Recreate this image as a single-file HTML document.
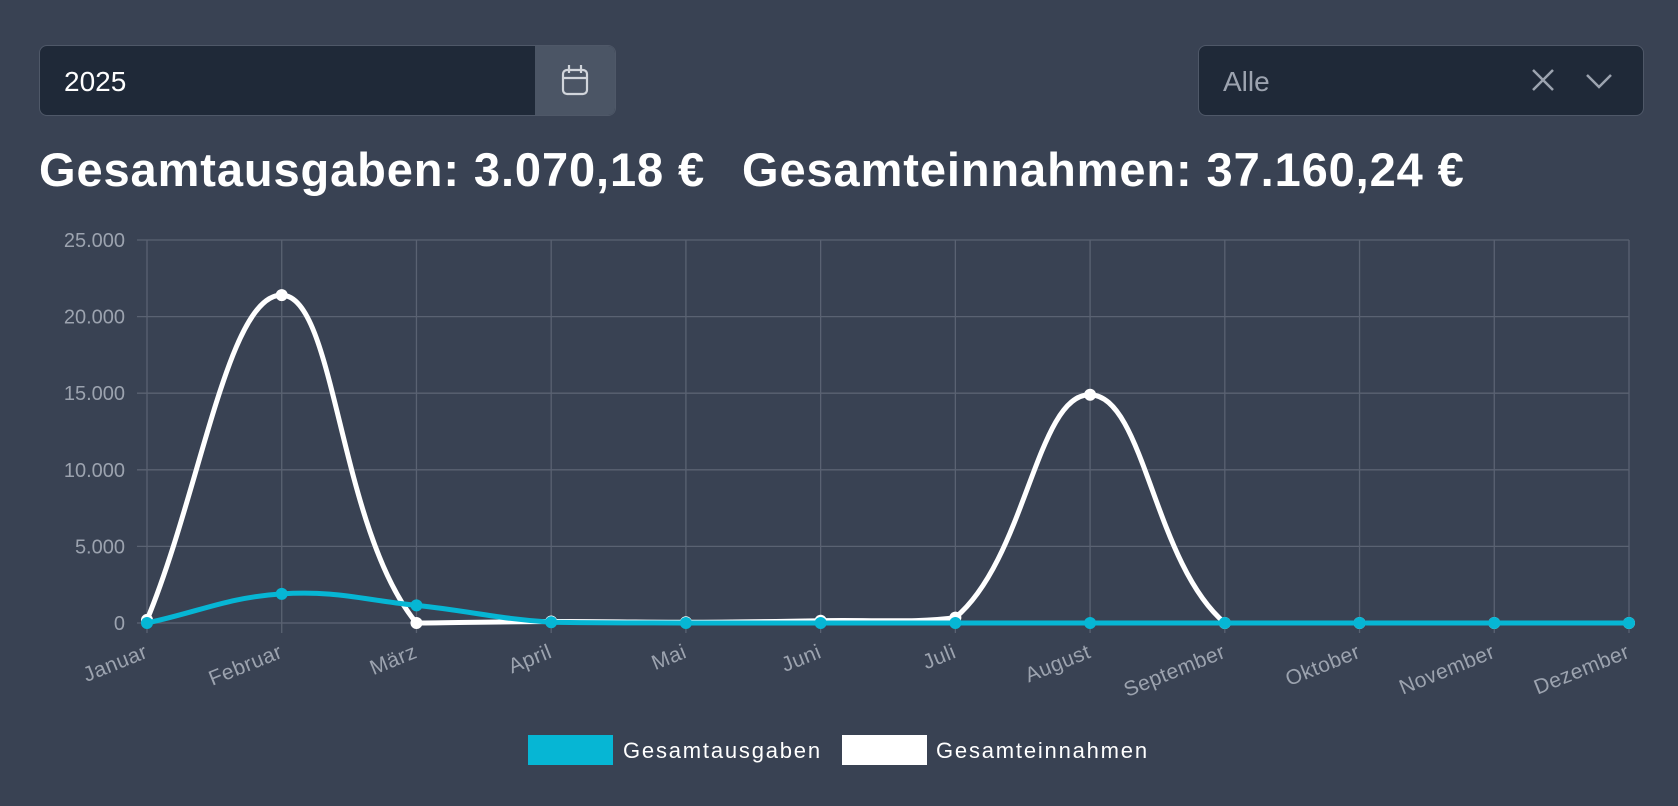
<!DOCTYPE html>
<html><head><meta charset="utf-8"><style>
html,body{margin:0;padding:0;width:1678px;height:806px;background:#394253;overflow:hidden;font-family:"Liberation Sans",sans-serif}
.inp{position:absolute;left:39px;top:45px;width:577px;height:71px;border:1.5px solid #4f5868;border-radius:8px;background:#1f2938;box-sizing:border-box;overflow:hidden}
.inp span{position:absolute;left:24px;top:20px;font-size:28px;color:#fff}
.btn{position:absolute;right:0;top:0;width:80px;height:100%;background:#4b5565}
.sel{position:absolute;left:1198px;top:45px;width:446px;height:71px;border:1.5px solid #4f5868;border-radius:8px;background:#1f2938;box-sizing:border-box}
.sel span{position:absolute;left:24px;top:20px;font-size:28px;color:#9ca3af}
h1{position:absolute;top:142px;margin:0;font-size:47px;font-weight:bold;color:#fff;white-space:nowrap;letter-spacing:0.9px}
</style></head><body>
<div class="inp"><span>2025</span><div class="btn"><svg width="80" height="71" viewBox="0 0 80 71"><rect x="28" y="24" width="24" height="24" rx="4" fill="none" stroke="#d1d5db" stroke-width="2.2"/><line x1="28" y1="32" x2="52" y2="32" stroke="#d1d5db" stroke-width="2.2"/><line x1="34" y1="19" x2="34" y2="27" stroke="#d1d5db" stroke-width="2.2"/><line x1="46" y1="19" x2="46" y2="27" stroke="#d1d5db" stroke-width="2.2"/></svg></div></div>
<div class="sel"><span>Alle</span><svg style="position:absolute;left:330px;top:20px" width="100" height="30"><path d="M4 4 L24 24 M24 4 L4 24" stroke="#9ca3af" stroke-width="2.5"/><path d="M58 9 L70 21 L82 9" stroke="#9ca3af" stroke-width="2.5" fill="none"/></svg></div>
<h1 style="left:39px">Gesamtausgaben: 3.070,18 €</h1>
<h1 style="left:742px">Gesamteinnahmen: 37.160,24 €</h1>
<svg id="c" style="position:absolute;left:0;top:0" width="1678" height="806"></svg>
<script>
const s=document.getElementById('c');let h='';
const L=147,R=1629,T=240,B=623;
const X=i=>L+i*(R-L)/11, Y=v=>B-v/25000*(B-T);
for(let k=0;k<=5;k++){const y=Y(k*5000);h+=`<line x1="${L-10}" y1="${y}" x2="${R}" y2="${y}" stroke="${k==0?'#5d6474':'#5a6272'}" stroke-width="1.3"/>`;
h+=`<text x="125" y="${y+7}" text-anchor="end" font-size="20" fill="#9ca3af">${k==0?'0':(k*5)+'.000'}</text>`;}
const m=['Januar','Februar','März','April','Mai','Juni','Juli','August','September','Oktober','November','Dezember'];
for(let i=0;i<12;i++){const x=X(i);h+=`<line x1="${x}" y1="${T}" x2="${x}" y2="${B+10}" stroke="#5a6272" stroke-width="1.3"/>`;
h+=`<text transform="translate(${x+2},${B+34}) rotate(-22)" text-anchor="end" font-size="21" letter-spacing="0.5" fill="#9ca3af">${m[i]}</text>`;}
const cl=(v,a,b)=>Math.max(a,Math.min(b,v));
function path(vals){const p=vals.map((v,i)=>[X(i),Y(v)]);const cp=p.map((c,i)=>{const a=p[i-1]||c,n=p[i+1]||c;const d01=Math.hypot(c[0]-a[0],c[1]-a[1]),d12=Math.hypot(n[0]-c[0],n[1]-c[1]);const sum=d01+d12||1;const fa=.4*d01/sum,fb=.4*d12/sum;return [[c[0]-fa*(n[0]-a[0]),cl(c[1]-fa*(n[1]-a[1]),T,B)],[c[0]+fb*(n[0]-a[0]),cl(c[1]+fb*(n[1]-a[1]),T,B)]]});
let d=`M${p[0]}`;for(let i=1;i<p.length;i++)d+=` C${cp[i-1][1]} ${cp[i][0]} ${p[i]}`;return [d,p];}
function ser(vals,col){const [d,p]=path(vals);h+=`<path d="${d}" fill="none" stroke="${col}" stroke-width="5"/>`;p.forEach(q=>h+=`<circle cx="${q[0]}" cy="${q[1]}" r="6" fill="${col}"/>`);}
ser([200,21400,0,100,50,150,350,14900,0,0,0,0],'#ffffff');
ser([0,1900,1150,50,0,0,0,0,0,0,0,0],'#06b6d4');
h+=`<rect x="528" y="735" width="85" height="30" fill="#06b6d4"/><text x="623" y="758" font-size="22" letter-spacing="1.8" fill="#fff">Gesamtausgaben</text>`;
h+=`<rect x="842" y="735" width="85" height="30" fill="#fff"/><text x="936" y="758" font-size="22" letter-spacing="1.8" fill="#fff">Gesamteinnahmen</text>`;
s.innerHTML=h;
</script>
</body></html>
